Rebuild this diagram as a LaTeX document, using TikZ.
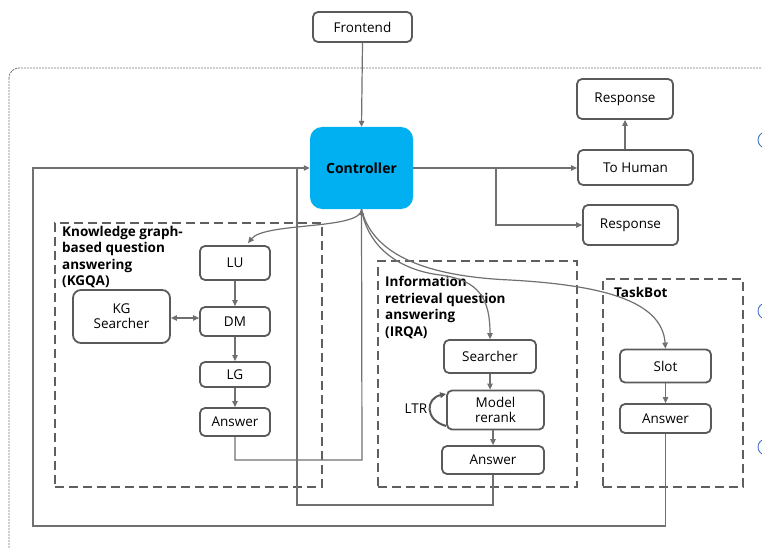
\documentclass[tikz,border=0pt]{standalone}
\usepackage{fontspec}
\setmainfont{Open Sans}
\usetikzlibrary{arrows.meta}
\definecolor{boxgray}{HTML}{5A5A5A}
\definecolor{linegray}{HTML}{707070}
\definecolor{ctrlblue}{HTML}{00B0F0}
\definecolor{groupgray}{HTML}{5F5F5F}
\definecolor{dotgray}{HTML}{7A7A7A}
\definecolor{arcblue}{HTML}{4472C4}
\tikzset{
  box/.style={draw=boxgray, line width=1.8pt, rounded corners=5pt, inner sep=0pt, align=center,
    font=\fontsize{13.5}{15}\selectfont, text=black},
  groupbox/.style={draw=groupgray, line width=2.2pt, dash pattern=on 9pt off 5pt, inner sep=0pt},
  grouptitle/.style={anchor=north west, align=left, inner sep=0pt,
    font=\fontsize{13.5}{16.5}\selectfont\bfseries, text=black},
  conn/.style={draw=linegray, line width=1.2pt, -{Triangle[length=6pt,width=5.5pt]}},
  plain/.style={draw=linegray, line width=1.2pt},
}
\begin{document}
\begin{tikzpicture}[x=1pt,y=-1pt]
\useasboundingbox (0,0) rectangle (762,548);
\clip (0,0) rectangle (762,548);
% outer dotted frame
\draw[draw=dotgray, line width=0.9pt, dash pattern=on 2pt off 1pt, rounded corners=10pt] (9,68) rectangle (800,560);
% partial blue circles at the right edge
\draw[arcblue, line width=0.9pt] (766,140) circle (8);
\draw[arcblue, line width=0.9pt] (766,311) circle (8);
\draw[arcblue, line width=0.9pt] (766,447) circle (8);

% group boxes
\node[groupbox, minimum width=267pt, minimum height=264pt] (kgqa) at (188.5,355) {};
\node[groupbox, minimum width=199pt, minimum height=226pt] (irqa) at (477.5,374) {};
\node[groupbox, minimum width=140pt, minimum height=208pt] (task) at (673,383) {};
\node[grouptitle] (kgqat) at (62,226) {Knowledge graph-\\based question\\answering\\(KGQA)};
\node[grouptitle] (irqat) at (385,276) {Information\\retrieval question\\answering\\(IRQA)};
\node[grouptitle] (taskt) at (614,287) {TaskBot};

% top nodes
\node[box, minimum width=99pt, minimum height=30pt] (fe) at (362.5,27) {Frontend};
\node[fill=ctrlblue, rounded corners=12pt, minimum width=103pt, minimum height=82pt, inner sep=0pt,
  font=\fontsize{14}{15}\selectfont\bfseries] (ctrl) at (361.5,168) {Controller};
\node[box, minimum width=96pt, minimum height=40pt] (resp1) at (625,99) {Response};
\node[box, minimum width=115pt, minimum height=35pt] (human) at (635.5,167.5) {To Human};
\node[box, minimum width=95pt, minimum height=40pt] (resp2) at (630.5,225) {Response};

% KGQA
\node[box, minimum width=70pt, minimum height=34pt] (lu) at (235,263) {LU};
\node[box, minimum width=70pt, minimum height=29pt] (dm) at (235,321.5) {DM};
\node[box, minimum width=70pt, minimum height=25pt] (lg) at (235,374.5) {LG};
\node[box, minimum width=70pt, minimum height=28pt] (ans1) at (235,422) {Answer};
\node[box, minimum width=97pt, minimum height=53pt, rounded corners=8pt] (kgs) at (121.5,316.5) {KG\\Searcher};

% IRQA
\node[box, minimum width=92pt, minimum height=33pt] (search) at (490,356.5) {Searcher};
\node[box, minimum width=97pt, minimum height=39pt] (model) at (495.5,410) {Model\\rerank};
\node[box, minimum width=102pt, minimum height=28pt] (ans2) at (493,460) {Answer};
\node[inner sep=0pt, font=\fontsize{13.5}{15}\selectfont] (ltr) at (416,409) {LTR};

% TaskBot
\node[box, minimum width=91pt, minimum height=33pt] (slot) at (665.5,366) {Slot};
\node[box, minimum width=91pt, minimum height=29pt] (ans3) at (665.5,418.5) {Answer};

% connectors
\draw[conn] (fe.south) -- (ctrl.north);
\draw[conn] (human.north -| resp1.south) -- (resp1.south);
\draw[conn] (ctrl.east) -- (ctrl.east -| human.west);
\draw[conn] (ctrl.east) -- (496,168) -- (496,225) -- (resp2.west);

\draw[conn] (ans3.south) -- (665.5,526) -- (33,526) -- (33,168) -- (ctrl.west);
\draw[plain] (ans2.south) -- (493,505) -- (297,505) -- (297,168);
\draw[conn] (ans1.south) -- (235,460) -- (362,460) -- (ctrl.south);

\draw[conn] (ctrl.south) .. controls (362,230) and (265,222) .. ([xshift=13pt,yshift=2pt]lu.north);
\draw[conn] (ctrl.south) .. controls (368,248) and (400,270) .. (440,275) .. controls (480,280) and (490,300) .. (search.north);
\draw[conn] (ctrl.south) .. controls (372,252) and (420,276) .. (510,280) .. controls (600,285) and (662,300) .. (slot.north);

\draw[conn] (lu.south) -- (dm.north);
\draw[conn] (dm.south) -- (lg.north);
\draw[conn] (lg.south) -- (ans1.north);
\draw[conn, {Triangle[length=6pt,width=5.5pt]}-{Triangle[length=6pt,width=5.5pt]}] (kgs.east |- 0,318) -- (dm.west |- 0,318);

\draw[conn] (search.south) -- (search.south |- model.north);
\draw[conn] (ans2.north |- model.south) -- (ans2.north);
\draw[draw=boxgray, line width=2pt, -{Triangle[length=6pt,width=5.5pt]}] ([yshift=-16pt]model.west) .. controls (424,420) and (426,398) .. ([yshift=16pt]model.west);

\draw[conn] (slot.south) -- (ans3.north);
\end{tikzpicture}
\end{document}
